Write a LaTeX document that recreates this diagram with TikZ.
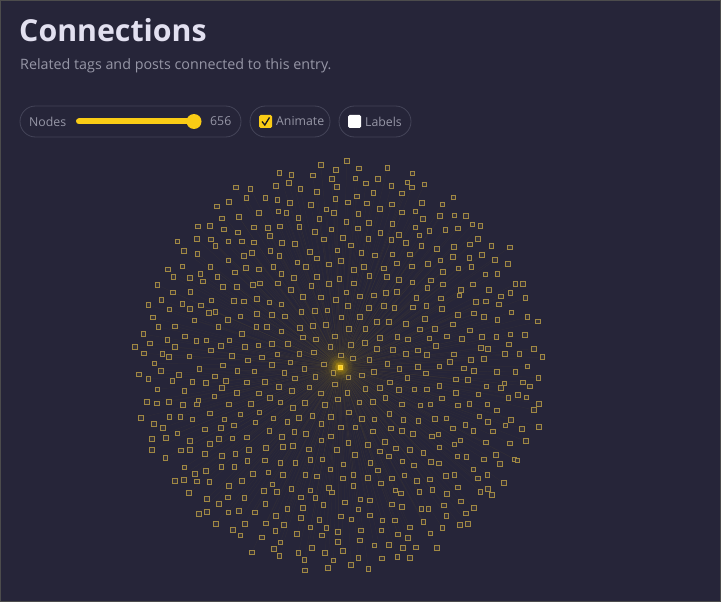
\documentclass[tikz,border=0pt]{standalone}
\usepackage{fontspec}
\setmainfont{Open Sans}
\usetikzlibrary{calc}
\definecolor{bgpanel}{RGB}{38,37,57}
\definecolor{pillline}{RGB}{68,68,88}
\definecolor{txtlight}{RGB}{226,224,240}
\definecolor{txtgray}{RGB}{150,150,166}
\definecolor{accent}{RGB}{250,204,21}
\definecolor{nodegold}{RGB}{160,136,68}
\tikzset{
  pill/.style={draw=pillline, line width=0.8pt, rounded corners=15.5pt},
  ctrltext/.style={anchor=west, inner sep=0pt, text=txtgray, font=\fontsize{12.3}{14}\selectfont},
  gnode/.style={draw=nodegold, fill=bgpanel!88!nodegold, line width=0.8pt, minimum size=4.6pt, inner sep=0pt, rectangle},
  glink/.style={draw=accent, draw opacity=0.03, line width=0.5pt}
}
\begin{document}
\begin{tikzpicture}[x=1pt,y=1pt,yscale=-1,xscale=1]
	\fill [bgpanel] (0,0) rectangle (721,602);
	\draw [black!70, line width=1pt] (0.5,0.5) rectangle (720.5,601.5);
	\useasboundingbox (0,0) rectangle (721,602);
	% heading
	\node (title) [anchor=west, inner sep=0pt, text=txtlight, font=\bfseries\fontsize{30.3}{33}\selectfont] at (19,30) {Connections};
	\node (subtitle) [anchor=west, inner sep=0pt, text=txtgray, font=\fontsize{14.3}{17}\selectfont] at (20,66) {Related tags and posts connected to this entry.};
	% controls
	\draw [pill] (20,106) rectangle (241,137);
	\node (nodeslbl) [ctrltext] at (29,121.5) {Nodes};
	\draw [accent, line width=6pt, line cap=round] (79,121.5) -- (194,121.5);
	\fill [accent] (194,121.5) circle (7.5);
	\node (nodescount) [ctrltext] at (210,121.5) {656};
	\draw [pill] (250,106) rectangle (330,137);
	\fill [accent, rounded corners=1.5pt] (259,115) rectangle (272,128);
	\draw [bgpanel!60!black, line width=1.3pt] (262,121.5) -- (264.8,125) -- (269.5,117.5);
	\node (animlbl) [ctrltext] at (276,121.5) {Animate};
	\draw [pill] (339,106) rectangle (411,137);
	\fill [white, rounded corners=1.5pt] (348,115) rectangle (361,128);
	\node (labelslbl) [ctrltext] at (365,121.5) {Labels};
	% graph
	\pgfmathsetseed{11}
	\coordinate (hub) at (340,367);
	\foreach \i in {1,...,655}{
		\pgfmathsetmacro{\rr}{206*sqrt((\i-0.3)/655)+3*rand}
		\pgfmathsetmacro{\aa}{mod(\i*0.381966,1)*360+2*rand}
		\coordinate (p\i) at ($(hub)+(\aa:\rr)$);
		\draw [glink] (hub) -- (p\i);
	}
	\foreach \i in {1,...,655}{
		\node (n\i) [gnode] at (p\i) {};
	}
	% centre glow
	\foreach \gr/\op in {12/0.06,8/0.1,5/0.18}{
		\fill [accent, opacity=\op] (hub) circle (\gr);
	}
	\node (centre) [fill=accent, draw=accent!80!white, minimum size=4.5pt, inner sep=0pt] at (hub) {};
\end{tikzpicture}
\end{document}
